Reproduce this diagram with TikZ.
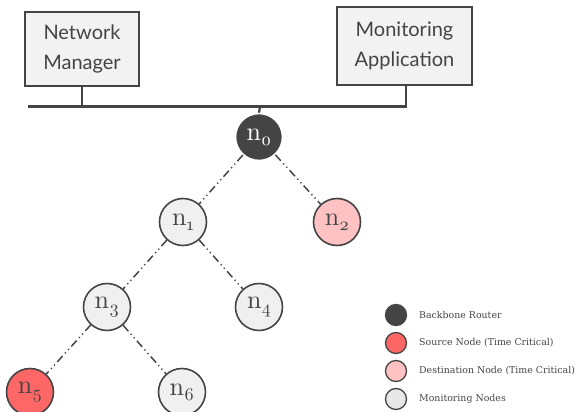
\documentclass[tikz,border=0pt]{standalone}
\usepackage{fontspec}
\newfontfamily\boxfont{Lato}
\newfontfamily\legfont{DejaVu Serif}
\newfontfamily\nodefont{lmroman10-regular}[Extension=.otf, Numbers=OldStyle]
\definecolor{dk}{HTML}{444444}
\definecolor{boxfill}{HTML}{F2F2F2}
\definecolor{monfill}{HTML}{F0F0F0}
\definecolor{srcfill}{HTML}{FF6666}
\definecolor{dstfill}{HTML}{FFC2C2}
\definecolor{legmon}{HTML}{E8E8E8}
\newcommand{\nlab}[1]{n\raisebox{-0.45ex}{\fontsize{18}{18}\selectfont #1}}
\tikzset{
  appbox/.style={draw=dk, line width=2.6pt, fill=boxfill, inner sep=0pt, align=center,
    text=dk, font=\boxfont\fontsize{20}{30}\selectfont},
  bus/.style={draw=dk, line width=2.2pt},
  tnode/.style={circle, draw=dk, line width=1.6pt, minimum size=47pt, inner sep=0pt,
    text=dk, font=\nodefont\fontsize{26}{26}\selectfont},
  root/.style={tnode, fill=dk, draw=white, text=white},
  mon/.style={tnode, fill=monfill},
  src/.style={tnode, fill=srcfill},
  dst/.style={tnode, fill=dstfill},
  link/.style={draw=dk, line width=1.5pt, dash pattern=on 8pt off 3.5pt on 1.2pt off 3.5pt on 1.2pt off 3.5pt},
  legdot/.style={circle, draw=dk, line width=1.3pt, minimum size=21pt, inner sep=0pt},
  legtxt/.style={anchor=west, text=dk, font=\legfont\fontsize{9.4}{11}\selectfont, inner sep=0pt}
}
\begin{document}
\begin{tikzpicture}[x=1pt, y=-1pt]
\useasboundingbox (0,0) rectangle (579,412);
% application boxes
\node[appbox, minimum width=114pt, minimum height=74pt] (nm) at (82,49) {Network\\Manager};
\node[appbox, minimum width=135pt, minimum height=78pt] (ma) at (404.5,46) {Monitoring\\Application};
% bus
\coordinate (busL) at (28,106.5);
\coordinate (busR) at (407,106.5);
\coordinate (nmB) at (82,106.5);
\coordinate (maB) at (406,106.5);
\coordinate (rtB) at (260,106.5);
\draw[bus] (busL) -- (busR);
\draw[bus] (nm.south -| nmB) -- (nmB);
\draw[bus] (ma.south -| maB) -- (maB);
% tree nodes
\node[root] (n0) at (259,137) {\nlab{0}};
\node[mon] (n1) at (183,222) {\nlab{1}};
\node[dst] (n2) at (337,222) {\nlab{2}};
\node[mon] (n3) at (107,307) {\nlab{3}};
\node[mon] (n4) at (259,307) {\nlab{4}};
\node[src] (n5) at (30,392) {\nlab{5}};
\node[mon] (n6) at (182,392) {\nlab{6}};
\draw[bus] (rtB) -- (n0.north);
\draw[link] (n0) -- (n1);
\draw[link] (n0) -- (n2);
\draw[link] (n1) -- (n3);
\draw[link] (n1) -- (n4);
\draw[link] (n3) -- (n5);
\draw[link] (n3) -- (n6);
% legend
\node[legdot, fill=dk] (l1) at (396,315) {};
\node[legdot, fill=srcfill] (l2) at (396,343) {};
\node[legdot, fill=dstfill] (l3) at (396,371) {};
\node[legdot, fill=legmon] (l4) at (396,399) {};
\node[legtxt] (t1) at (419,315) {Backbone Router};
\node[legtxt] (t2) at (419,343) {Source Node (Time Critical)};
\node[legtxt] (t3) at (419,371) {Destination Node (Time Critical)};
\node[legtxt] (t4) at (419,399) {Monitoring Nodes};
\end{tikzpicture}
\end{document}
